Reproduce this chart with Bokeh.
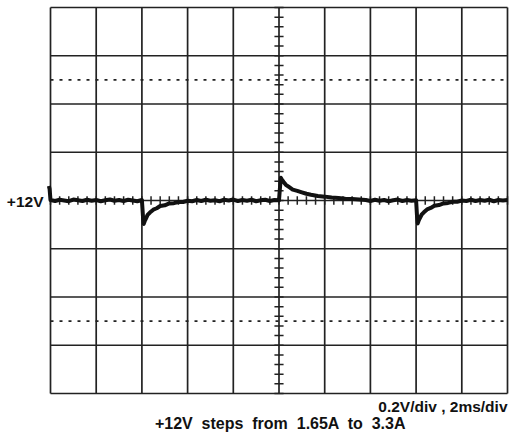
import numpy as np
from bokeh.plotting import figure
from bokeh.models import Range1d
from bokeh.core.properties import value
from bokeh.embed import file_html
from bokeh.resources import INLINE

# ---- data ----
# time in ms (2 ms/div, 10 divisions), voltage in V (0.2 V/div, centred on 12 V)
time_divs = [0, 2, 4, 6, 8, 10, 12, 14, 16, 18, 20]
volt_divs = [11.2, 11.4, 11.6, 11.8, 12.0, 12.2, 12.4, 12.6, 12.8]
dotted_levels = [12.5, 11.5]

trace_t = [-0.07, -0.04, 0.00,
           0.2, 0.4, 0.6, 0.8, 1.0, 1.2, 1.4, 1.6, 1.8, 2.0, 2.2, 2.4, 2.6, 2.8, 3.0, 3.2, 3.4, 3.6, 3.8, 4.0,
           4.05, 4.08, 4.12, 4.17, 4.25, 4.35, 4.5, 4.65, 4.8, 5.0, 5.2, 5.4, 5.6, 5.8, 6.0, 6.2,
           6.4, 6.6, 6.8, 7.0, 7.2, 7.4, 7.6, 7.8, 8.0, 8.2, 8.4, 8.6, 8.8, 9.0, 9.2, 9.4, 9.6, 9.8, 10.0,
           10.04, 10.08, 10.12, 10.2, 10.3, 10.45, 10.6, 10.8, 11.0, 11.2, 11.4, 11.7, 12.0, 12.3, 12.6, 12.9, 13.2, 13.5, 13.8,
           14.0, 14.2, 14.4, 14.6, 14.8, 15.0, 15.2, 15.4, 15.6, 15.8, 16.0,
           16.04, 16.07, 16.11, 16.16, 16.24, 16.34, 16.48, 16.64, 16.8, 17.0, 17.2, 17.4, 17.6, 17.8, 18.0, 18.2,
           18.4, 18.6, 18.8, 19.0, 19.2, 19.4, 19.6, 19.8, 20.0]
trace_v = [12.060, 12.048, 12.002,
           11.998, 12.003, 12.000, 11.997, 12.004, 12.001, 11.998, 12.003, 11.999, 12.002, 11.997, 12.001, 12.004, 11.999, 12.002, 11.998, 12.003, 12.000, 11.997, 12.002,
           11.930, 11.903, 11.914, 11.924, 11.940, 11.950, 11.962, 11.968, 11.977, 11.980, 11.988, 11.989, 11.994, 11.994, 11.999, 11.997,
           12.002, 11.998, 12.003, 11.999, 12.001, 11.997, 12.003, 12.000, 12.004, 11.998, 12.002, 11.999, 12.003, 11.997, 12.001, 12.003, 11.998, 12.002, 12.001,
           12.050, 12.094, 12.088, 12.077, 12.065, 12.055, 12.045, 12.040, 12.034, 12.028, 12.024, 12.019, 12.016, 12.012, 12.010, 12.007, 12.006, 12.004, 12.002,
           11.998, 12.003, 11.999, 12.002, 11.997, 12.001, 12.004, 11.998, 12.002, 11.999, 12.001,
           11.935, 11.905, 11.916, 11.926, 11.941, 11.951, 11.963, 11.969, 11.978, 11.981, 11.988, 11.990, 11.995, 11.995, 12.000, 11.998,
           12.003, 11.998, 12.002, 11.999, 12.003, 11.997, 12.002, 12.000, 12.002]

label_level = "+12V"
scale_text = "0.2V/div , 2ms/div"
caption = "+12V \u00a0steps \u00a0from \u00a01.65A \u00a0to \u00a03.3A"

# ---- layout: map data onto page pixels (figure sits at page 0,0) ----
W, H = 510, 438
px_per_ms = 457 / 20.0
x0 = -50 / px_per_ms
x1 = x0 + W / px_per_ms
px_per_v = (393 - 7) / 1.6
y1 = 12.8 + 7 / px_per_v
y0 = y1 - H / px_per_v


def vy(py):
    """page pixel row -> data voltage"""
    return y1 - py / px_per_v


def tx(px):
    """page pixel column -> data time"""
    return x0 + px / px_per_ms


p = figure(width=W, height=H, output_backend="svg", toolbar_location=None,
           x_range=Range1d(x0, x1), y_range=Range1d(y0, y1),
           x_axis_type=None, y_axis_type=None,
           min_border=0, min_border_left=0, min_border_right=0,
           min_border_top=0, min_border_bottom=0)
p.outline_line_color = None
p.grid.visible = False
p.background_fill_color = "white"
p.border_fill_color = "white"

gc = "#222222"
# grid
p.segment(x0=time_divs, y0=[11.2] * len(time_divs), x1=time_divs, y1=[12.8] * len(time_divs),
          line_color=gc, line_width=1.7)
p.segment(x0=[0] * len(volt_divs), y0=volt_divs, x1=[20] * len(volt_divs), y1=volt_divs,
          line_color=gc, line_width=1.7)
for lv in dotted_levels:
    p.line([0, 20], [lv, lv], line_color=gc, line_width=1.6, line_dash="3 6")

# centre cross ticks (5 minor per division)
vt = np.round(np.arange(11.2, 12.8001, 0.04), 3)
p.segment(x0=[9.8] * len(vt), y0=vt, x1=[10.2] * len(vt), y1=vt, line_color=gc, line_width=1.5)
ht = np.round(np.arange(0, 20.001, 0.4), 3)
p.segment(x0=ht, y0=[11.982] * len(ht), x1=ht, y1=[12.018] * len(ht), line_color=gc, line_width=1.5)

# trace
p.line(trace_t, trace_v, line_color="#111111", line_width=4.0, line_join="round")

font = value("Liberation Sans")
p.text(x=[tx(43)], y=[vy(200.5)], text=[label_level], text_font=font,
       text_font_style="bold", text_font_size="15.5px", text_align="right",
       text_baseline="middle", text_color="#111111")
p.text(x=[tx(507)], y=[vy(405.5)], text=[scale_text], text_font=font,
       text_font_style="bold", text_font_size="15.5px", text_align="right",
       text_baseline="middle", text_color="#111111")
p.text(x=[tx(280)], y=[vy(423)], text=[caption], text_font=font,
       text_font_style="bold", text_font_size="16px", text_align="center",
       text_baseline="middle", text_color="#111111")

open("out.html", "w").write(file_html(p, INLINE))
